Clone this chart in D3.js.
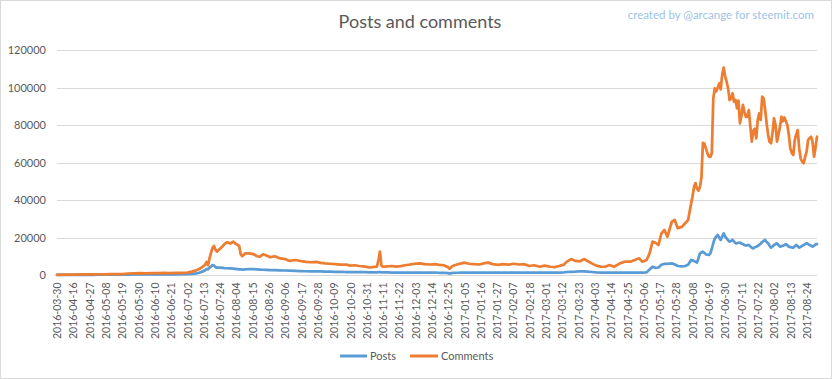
<!DOCTYPE html>
<html><head><meta charset="utf-8">
<script src="https://cdn.jsdelivr.net/npm/d3@7"></script>
<style>
html,body{margin:0;padding:0;background:#fff;}
svg{display:block;font-family:Lato,"Open Sans",sans-serif;}
</style></head>
<body><svg id="c" width="832" height="379"></svg>
<script>
const tickLabels = ["2016-03-30","2016-04-16","2016-04-27","2016-05-08","2016-05-19","2016-05-30","2016-06-10","2016-06-21","2016-07-02","2016-07-13","2016-07-24","2016-08-04","2016-08-15","2016-08-26","2016-09-06","2016-09-17","2016-09-28","2016-10-09","2016-10-20","2016-10-31","2016-11-11","2016-11-22","2016-12-03","2016-12-14","2016-12-25","2017-01-05","2017-01-16","2017-01-27","2017-02-07","2017-02-18","2017-03-01","2017-03-12","2017-03-23","2017-04-03","2017-04-14","2017-04-25","2017-05-06","2017-05-17","2017-05-28","2017-06-08","2017-06-19","2017-06-30","2017-07-11","2017-07-22","2017-08-02","2017-08-13","2017-08-24"];
const categoryCount = 514;
const yTicks = [0,20000,40000,60000,80000,100000,120000];
const seriesNames = ["Posts","Comments"];

// category index of each sample
const sampleIdx = [0,4,8,12,16,20,24,28,32,36,40,44,48,52,56,60,64,68,72,76,80,84,88,91,94,96,98,100,101,102,103,104,105,106,107,108,110,112,113,115,117,119,120,122,123,124,125,127,130,133,135,137,139,141,144,147,150,154,157,161,164,168,171,175,178,181,184,188,191,195,198,201,204,208,211,214,216,217,218,219,220,223,226,229,232,235,238,241,245,248,252,255,258,261,264,265,267,270,273,275,278,281,285,288,291,294,298,301,305,308,312,315,319,322,326,329,333,336,339,342,344,347,350,353,356,358,361,364,367,370,373,376,380,383,387,390,393,395,398,400,402,404,406,408,410,412,415,417,419,422,424,426,428,429,430,431,432,433,434,435,436,437,438,439,440,441,442,443,444,445,446,447,448,449,450,451,452,453,454,455,456,457,458,459,460,461,462,463,464,465,466,467,468,469,470,471,472,473,474,475,476,477,478,479,480,481,482,483,484,485,486,487,488,489,490,491,492,493,494,495,496,497,498,499,500,501,502,503,504,505,506,507,508,509,510,511,512,513];

const posts = [50,60,80,100,100,120,130,150,150,160,180,200,250,280,300,300,320,330,350,350,380,400,450,600,900,1200,1800,2500,3200,3000,3900,4500,5300,5000,4200,3900,3900,3800,3700,3600,3500,3400,3300,3100,3000,3000,2900,3000,3200,3100,3000,2900,2800,2700,2600,2600,2500,2400,2300,2200,2100,2000,1900,1900,1900,1800,1800,1700,1700,1600,1600,1500,1500,1500,1400,1400,1400,1500,1500,1400,1400,1400,1300,1300,1300,1300,1300,1300,1300,1300,1300,1300,1200,1200,1000,700,1100,1200,1300,1300,1300,1300,1300,1300,1300,1300,1300,1300,1300,1300,1300,1300,1300,1300,1300,1300,1300,1300,1300,1400,1600,1700,1800,2000,1900,1800,1600,1400,1300,1300,1300,1300,1300,1300,1300,1300,1300,1300,1400,3000,4400,3800,4000,5500,6000,6000,6200,5600,4800,4600,4800,5500,8000,7800,7500,7000,6600,9000,11500,12000,12400,11800,11000,10800,10700,11500,14000,17000,19500,20500,21300,20000,18700,20500,22200,20500,19500,18500,17800,18200,18700,17800,17000,16900,17200,17300,16800,16500,16000,15700,15900,16000,15200,14500,14200,14800,15100,15500,16000,16800,17600,18200,18700,17600,16900,15600,14600,15200,16000,16500,16900,16000,15100,15400,15600,16000,16500,15800,15100,14900,14700,14600,15300,16000,15300,14600,15000,15600,16000,16500,16900,16500,16000,15600,15100,15600,16300,16500];

const comments = [100,150,200,250,300,350,350,400,400,450,450,500,800,900,1000,900,1000,1000,1100,1000,1100,1100,1300,1800,2500,3200,4200,5500,7000,5200,9000,12000,14500,15500,13500,12500,14000,15500,16500,17500,16800,17800,17000,16000,15500,11000,10000,11500,11500,11000,10000,9800,11000,10500,9500,10000,9000,8500,7500,8000,7500,7000,6800,7000,6500,6200,6000,5800,5500,5600,5000,5200,4800,4500,4000,4300,4500,8000,12500,5000,4400,4600,4800,4500,4700,5200,5500,6000,6200,5800,5600,5800,5400,5200,4200,3300,4800,5600,6200,6600,6000,5800,5600,6200,6600,5800,5400,5800,5500,6000,5600,5800,4800,5200,4400,5000,4400,4200,4800,5500,7000,8500,7500,7300,8500,7500,6200,5000,4500,4400,5300,4400,6200,7100,7100,8000,8900,7100,8000,11500,17800,17200,16000,22200,24000,20400,28400,29300,24900,25800,27600,29300,38000,42000,47000,49000,46000,45000,47000,52000,70500,70000,67500,65000,63100,63000,65000,94200,99500,98000,100000,102200,99000,106700,110600,106000,103100,99500,93300,94000,96900,92400,93300,88900,93000,80900,85000,90700,87000,84400,84400,88000,79100,71100,77000,78000,72900,82700,86200,82700,95100,94200,88000,81000,74700,71000,70200,76000,83600,80000,71100,75000,79000,84400,82000,84000,82000,80000,74700,67500,65000,64000,72000,75000,77300,67500,62000,60400,59600,63000,65800,72000,73000,73800,71000,63100,68000,73800];

const colors = {Posts:"#5b9bd5", Comments:"#ed7d31"};
const textColor = "#595959";
const gridColor = "#d9d9d9";

const svg = d3.select("#c");
const W = 832, H = 379;
const plot = {left:57, right:817, top:50, bottom:275};

svg.append("rect").attr("x",0.5).attr("y",0.5).attr("width",W-1).attr("height",H-1)
  .attr("fill","#fff").attr("stroke","#d9d9d9");

const x = d3.scaleLinear().domain([0, categoryCount-1]).range([plot.left, plot.right]);
const y = d3.scaleLinear().domain([0,120000]).range([plot.bottom, plot.top]);

// gridlines
svg.append("g").selectAll("line").data(yTicks.filter(d=>d>0)).join("line")
  .attr("x1",plot.left).attr("x2",plot.right)
  .attr("y1",d=>Math.round(y(d))+0.5).attr("y2",d=>Math.round(y(d))+0.5)
  .attr("stroke",gridColor).attr("stroke-width",1);

// y axis labels
const yAxis = d3.axisLeft(y).tickValues(yTicks).tickSize(0).tickPadding(0).tickFormat(d3.format("d"));
const gy = svg.append("g").attr("transform",`translate(46,0)`).call(yAxis);
gy.select(".domain").remove();
gy.selectAll("text").attr("fill",textColor).style("font-size","11px").style("font-family","Lato");

// x axis
const xAxis = d3.axisBottom(x).tickValues(tickLabels.map((d,i)=>i*11))
  .tickFormat((d,i)=>tickLabels[i]).tickSize(0);
const gx = svg.append("g").attr("transform",`translate(0,${plot.bottom+0.5})`).call(xAxis);
gx.select(".domain").attr("stroke",gridColor).attr("d",`M${plot.left},0H${plot.right}`);
gx.selectAll("text")
  .attr("fill",textColor).style("font-size","10.5px").style("font-family","Lato")
  .attr("text-anchor","end").attr("transform","rotate(-90)")
  .attr("x",-7).attr("y",0).attr("dy","0.35em");

// lines
const line = vals => d3.line().x((d,i)=>x(sampleIdx[i])).y(d=>y(d)).curve(d3.curveLinear)(vals);
svg.append("path").attr("d",line(posts)).attr("fill","none").attr("stroke",colors.Posts)
  .attr("stroke-width",2.75).attr("stroke-linejoin","round").attr("stroke-linecap","round");
svg.append("path").attr("d",line(comments)).attr("fill","none").attr("stroke",colors.Comments)
  .attr("stroke-width",2.75).attr("stroke-linejoin","round").attr("stroke-linecap","round");

// title
svg.append("text").attr("x",420).attr("y",28).attr("text-anchor","middle")
  .attr("fill",textColor).style("font-size","18px").style("font-family","Lato").text("Posts and comments");
svg.append("text").attr("x",814).attr("y",19).attr("text-anchor","end")
  .attr("fill","#9dc3e6").style("font-size","11.5px").style("font-family","Lato").text("created by @arcange for steemit.com");

// legend
const legend = [{name:"Posts", x1:340, x2:367, tx:370},{name:"Comments", x1:410, x2:438, tx:441}];
const lg = svg.append("g");
legend.forEach(l=>{
  lg.append("line").attr("x1",l.x1).attr("x2",l.x2).attr("y1",356).attr("y2",356)
    .attr("stroke",colors[l.name]).attr("stroke-width",3);
  lg.append("text").attr("x",l.tx).attr("y",356).attr("dy","0.35em")
    .attr("fill",textColor).style("font-size","11px").style("font-family","Lato").text(l.name);
});
</script></body></html>
